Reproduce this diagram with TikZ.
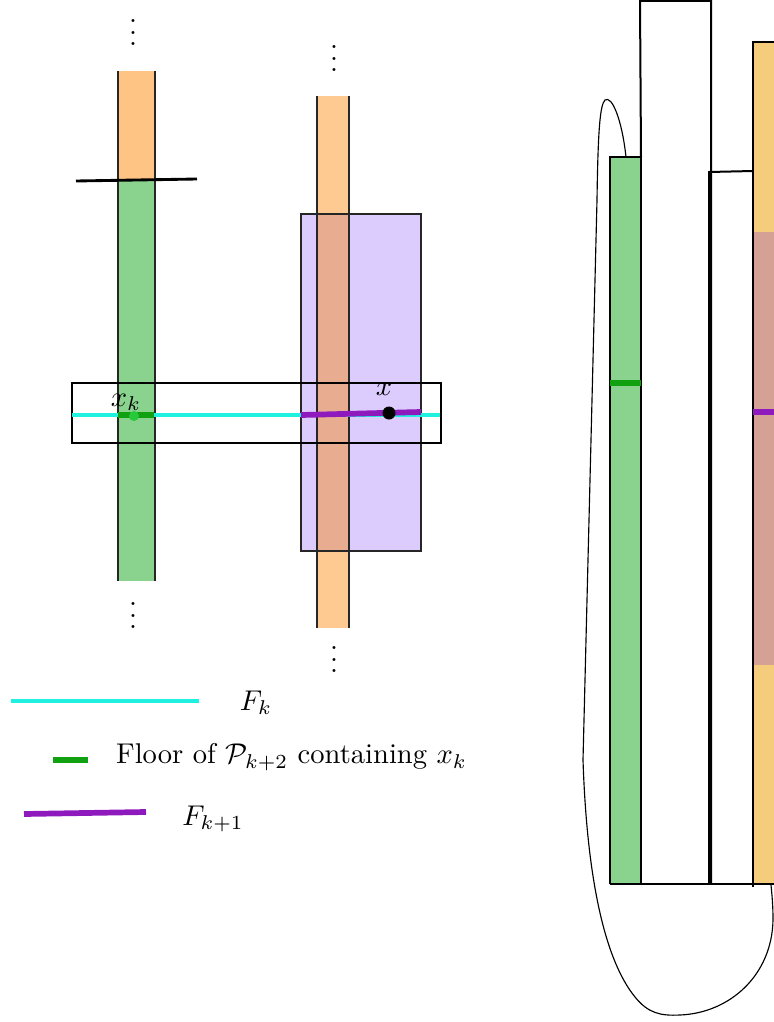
\documentclass[tikz,border=0pt]{standalone}
\usepackage{amsfonts}
\usepackage{mathtools}
\usetikzlibrary{arrows,positioning,calc}
\definecolor{towerorange}{RGB}{253,196,132}
\definecolor{towerorangeb}{RGB}{254,202,145}
\definecolor{towergreen}{RGB}{138,211,143}
\definecolor{cubepurple}{RGB}{220,203,253}
\definecolor{overlapbrown}{RGB}{232,172,145}
\definecolor{stackorange}{RGB}{245,203,124}
\definecolor{stackbrown}{RGB}{213,161,148}
\definecolor{fkcyan}{RGB}{32,240,224}
\definecolor{floorgreen}{RGB}{16,160,16}
\definecolor{fkpurple}{RGB}{142,26,190}
\definecolor{dotgreen}{RGB}{40,200,60}
\tikzstyle{side}=[draw=black!85,line width=0.5pt]
\tikzstyle{stackline}=[draw=black,line width=0.7pt]
\tikzstyle{cyanline}=[draw=fkcyan,line width=1.2pt]
\tikzstyle{floorbar}=[draw=floorgreen,line width=2.3pt]
\tikzstyle{purpleline}=[draw=fkpurple,line width=2pt]

\begin{document}
\begin{tikzpicture}[x=0.35pt,y=-0.35pt]
	\useasboundingbox (0,0) rectangle (774,1022);
	% first tower
	\fill[towerorange] (118,71) rectangle (155,180);
	\fill[towergreen] (118,180) rectangle (155,581);
	\draw[side] (118,71) -- (118,581) (155,71) -- (155,581);
	\draw[line width=1pt] (76,181) -- (197,179);
	\node (dotsa) at (133,24) {$\vdots$};
	\node (dotsb) at (133,607) {$\vdots$};
	% second tower and cube
	\fill[towerorangeb] (317,96) rectangle (349,628);
	\fill[cubepurple] (301,214) rectangle (421,551);
	\fill[overlapbrown] (317,214) rectangle (349,551);
	\draw[side] (317,96) -- (317,628) (349,96) -- (349,628);
	\draw[side] (301,214) rectangle (421,551);
	\node (dotsc) at (334,50) {$\vdots$};
	\node (dotsd) at (334,651) {$\vdots$};
	% F_k box
	\draw[line width=0.8pt] (72,383) rectangle (441,443);
	\draw[cyanline] (72,415) -- (440,415);
	\draw[floorbar] (118,415) -- (154,415);
	\draw[purpleline] (301,415) -- (421,412);
	\fill[dotgreen] (134,416) circle (5);
	\fill (389,413) circle (6.5);
	\node (xk) at (126,402) {$x_k$};
	\node (x) at (384,389) {$x$};
	% legend
	\draw[cyanline] (11,701) -- (199,701);
	\node (lgfk) at (256,703) {$F_k$};
	\draw[floorbar] (53,760) -- (88,760);
	\node[anchor=west] (lgfloor) at (106,757) {Floor of $\mathcal{P}_{k+2}$ containing $x_k$};
	\draw[purpleline] (24,814) -- (146,812);
	\node (lgfkk) at (213,819) {$F_{k+1}$};
	% right stack
	\fill[towergreen] (610,157) rectangle (641,884);
	\fill[stackorange] (753,42) rectangle (774,884);
	\fill[stackbrown] (753,232) rectangle (774,665);
	\draw[stackline] (610,884) -- (610,157) -- (641,157) -- (641,884);
	\draw[stackline] (641,157) -- (640,1) -- (711,1) -- (711,884);
	\draw[stackline] (709,884) -- (709,172) -- (753,171);
	\draw[stackline] (774,42) -- (753,42) -- (753,887);
	\draw[line width=1pt] (610,884) -- (774,884);
	\draw[floorbar] (610,383) -- (641,383);
	\draw[purpleline] (753,412) -- (774,412);
	\draw[line width=0.4pt] (626,157) .. controls (622,120) and (612,95) .. (605,100)
		.. controls (600,105) and (598,130) .. (597,200) -- (583,760)
		.. controls (587,880) and (605,960) .. (635,997)
		.. controls (648,1013) and (660,1016) .. (680,1015)
		.. controls (730,1013) and (772,975) .. (773,920)
		.. controls (773,905) and (772,895) .. (771,885);
\end{tikzpicture}
\end{document}
